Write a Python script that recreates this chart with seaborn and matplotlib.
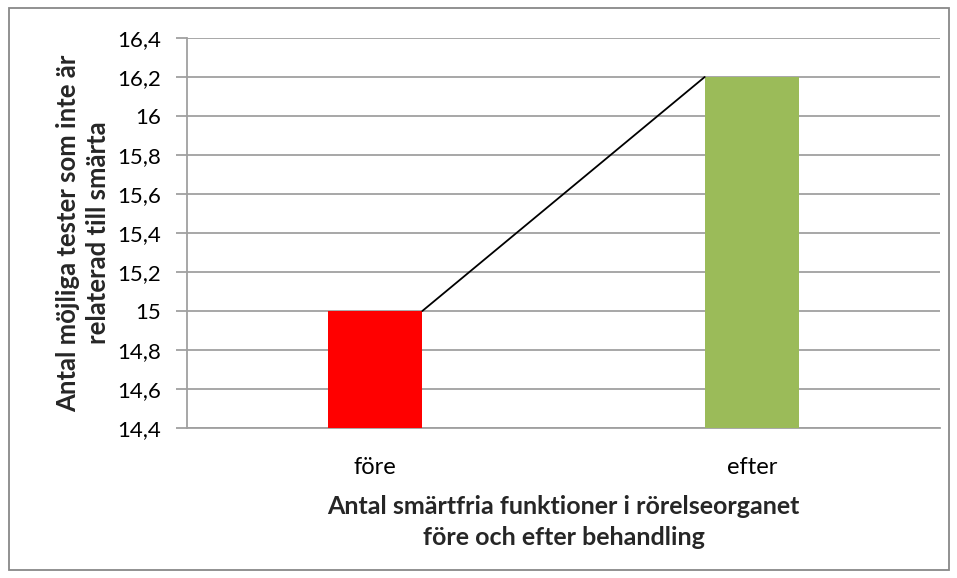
import matplotlib
matplotlib.use("Agg")
import matplotlib.pyplot as plt
import seaborn as sns
import pandas as pd
from matplotlib.patches import Rectangle
from matplotlib.ticker import FuncFormatter, MultipleLocator

# ── Data ───────────────────────────────────────────────────────────────────────
categories = ["före", "efter"]
values = [15.0, 16.2]
bar_colors = ["#FF0000", "#9BBB59"]

y_min, y_max, y_step = 14.4, 16.4, 0.2

x_label = "Antal smärtfria funktioner i rörelseorganet\nföre och efter behandling"
y_label = "Antal möjliga tester som inte är\nrelaterad till smärta"

df = pd.DataFrame({"fas": categories, "antal": values})

# ── Plot ───────────────────────────────────────────────────────────────────────
sns.set_theme(style="white")
plt.rcParams["font.family"] = ["Lato", "DejaVu Sans"]

fig = plt.figure(figsize=(9.57, 5.78), dpi=100)
ax = fig.add_axes([187 / 957, 1 - 428 / 578, (940 - 187) / 957, (428 - 38) / 578])

bar_w = 0.25
sns.barplot(data=df, x="fas", y="antal", hue="fas", palette=bar_colors,
            width=bar_w, legend=False, ax=ax, saturation=1, zorder=3,
            linewidth=0)

# connecting line from top right of first bar to top left of second
ax.plot([0 + bar_w / 2, 1 - bar_w / 2], values, color="black", lw=1.3, zorder=4)

ax.set_ylim(y_min, y_max)
ax.set_xlim(-0.5, 1.5)
ax.yaxis.set_major_locator(MultipleLocator(y_step))
ax.yaxis.set_major_formatter(FuncFormatter(lambda v, _: f"{v:.1f}".replace(".", ",").replace(",0", "")))
ax.grid(axis="y", color="#A0A0A0", lw=1.3, zorder=0)
ax.set_axisbelow(True)

for side in ["top", "right"]:
    ax.spines[side].set_visible(False)
for side in ["left", "bottom"]:
    ax.spines[side].set_color("#A0A0A0")
    ax.spines[side].set_linewidth(1.3)

ax.tick_params(axis="y", which="major", left=True, length=8, width=1.3,
               color="#A0A0A0", labelsize=16, pad=11, labelcolor="black")
ax.tick_params(axis="x", bottom=False, labelsize=17, pad=15, labelcolor="black")

ax.set_xlabel(x_label, fontsize=18, fontweight="bold", labelpad=12, linespacing=1.45)
ax.set_ylabel(y_label, fontsize=18.5, fontweight="bold", linespacing=1.3)
ax.yaxis.set_label_coords(-0.102, 0.5)

# outer chart border
fig.patches.append(Rectangle((9 / 957, 8 / 578), 940 / 957, 562 / 578,
                             transform=fig.transFigure, fill=False,
                             edgecolor="#888888", lw=1.3))

fig.savefig("out.png", dpi=100)
